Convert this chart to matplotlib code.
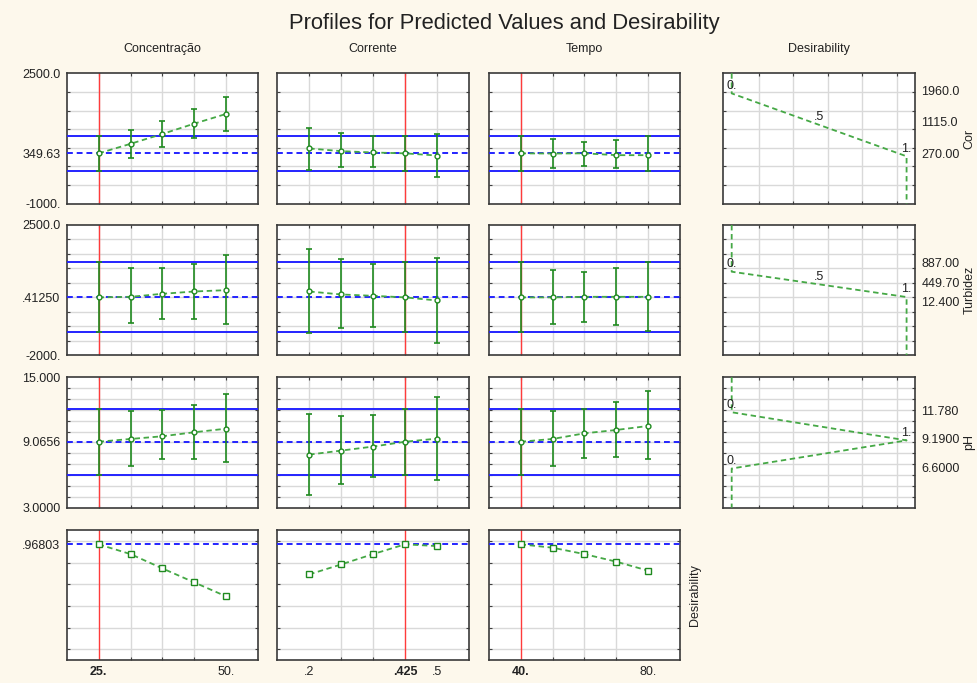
import numpy as np
import matplotlib
matplotlib.use('Agg')
import matplotlib.pyplot as plt

plt.rcParams['font.family'] = ['Liberation Sans', 'DejaVu Sans']

# factor levels (x of the profile columns)
conc = [25, 31.25, 37.5, 43.75, 50]
corr = [0.2, 0.275, 0.35, 0.425, 0.5]
tempo = [40, 50, 60, 70, 80]
factor_names = ['Concentração', 'Corrente', 'Tempo']
current = [25, 0.425, 40]

# Cor: predicted value, lower and upper confidence limit
cor_conc = [349.63, 606, 871, 1149, 1410]
cor_conc_lo = [-117, 238, 526, 768, 947]
cor_conc_hi = [817, 974, 1217, 1531, 1872]
cor_corr = [481, 409, 373, 349.63, 292]
cor_corr_lo = [-103, -22, -22, -117, -273]
cor_corr_hi = [1037, 903, 822, 817, 867]
cor_tempo = [349.63, 345, 350, 301, 301]
cor_tempo_lo = [-117, -31, 5, -31, -130]
cor_tempo_hi = [817, 732, 660, 696, 804]
cor_mean = 349.63
cor_ci = [-117, 817]

# Turbidez
tur_conc = [0.4125, 20, 124, 204, 250]
tur_conc_lo = [-1205, -886, -760, -760, -932]
tur_conc_hi = [1205, 1019, 1019, 1168, 1455]
tur_corr = [204, 101, 55, 0.4125, -106]
tur_corr_lo = [-1242, -1070, -1024, -1205, -1564]
tur_corr_hi = [1673, 1329, 1168, 1205, 1375]
tur_tempo = [0.4125, 0, 20, 20, 20]
tur_tempo_lo = [-1205, -932, -852, -944, -1162]
tur_tempo_hi = [1205, 962, 881, 1008, 1226]
tur_mean = 0.4125
tur_ci = [-1205, 1205]

# pH
ph_conc = [9.0656, 9.32, 9.57, 9.94, 10.27]
ph_conc_lo = [6.0, 6.87, 7.48, 7.48, 7.24]
ph_conc_hi = [12.12, 11.87, 12.02, 12.48, 13.43]
ph_corr = [7.88, 8.25, 8.62, 9.0656, 9.35]
ph_corr_lo = [4.14, 5.21, 5.85, 6.0, 5.58]
ph_corr_hi = [11.65, 11.41, 11.53, 12.12, 13.19]
ph_tempo = [9.0656, 9.32, 9.84, 10.15, 10.52]
ph_tempo_lo = [6.0, 6.87, 7.6, 7.7, 7.48]
ph_tempo_hi = [12.12, 11.87, 12.12, 12.7, 13.77]
ph_mean = 9.0656
ph_ci = [6.0, 12.12]

# overall desirability
desir_conc = [0.96803, 0.878, 0.746, 0.617, 0.488]
desir_corr = [0.691, 0.783, 0.878, 0.96803, 0.952]
desir_tempo = [0.96803, 0.937, 0.878, 0.808, 0.725]
desir_max = 0.96803

# desirability functions: response value -> desirability
cor_spec = [1960.0, 1115.0, 270.0]
cor_spec_d = [0, 0.5, 1]
cor_spec_labels = ['1960.0', '1115.0', '270.00']
tur_spec = [887.0, 449.7, 12.4]
tur_spec_d = [0, 0.5, 1]
tur_spec_labels = ['887.00', '449.70', '12.400']
ph_spec = [11.78, 9.19, 6.6]
ph_spec_d = [0, 1, 0]
ph_spec_labels = ['11.780', '9.1900', '6.6000']

response_names = ['Cor', 'Turbidez', 'pH']

# axis ranges and labels
row_ylim = [(-1000, 2500), (-2000, 2500), (3, 15), (-0.1, 1.1)]
row_ygrid = [np.arange(-500, 2001, 500), np.arange(-1500, 2001, 500),
             np.arange(4, 15, 1), np.arange(0, 1.01, 0.2)]
row_yticks = [[-1000, 349.63, 2500], [-2000, 0.4125, 2500], [3, 9.0656, 15], [0.96803]]
row_ylabels = [['-1000.', '349.63', '2500.0'], ['-2000.', '.41250', '2500.0'],
               ['3.0000', '9.0656', '15.000'], ['.96803']]
col_xlim = [(18.75, 56.25), (0.125, 0.575), (30, 90)]
col_xticks = [[25, 50], [0.2, 0.425, 0.5], [40, 80]]
col_xlabels = [['25.', '50.'], ['.2', '.425', '.5'], ['40.', '80.']]

BG = '#fdf8ec'
TXT = '#222222'
GREEN = '#1f8a1f'
GREEN_LINE = '#45a845'
BLUE = '#2424ff'
RED = '#ff3b3b'

W, H = 977, 683
fig = plt.figure(figsize=(W / 100, H / 100), dpi=100, facecolor=BG)

col_left = [66.7, 277.3, 488.7, 723.3]
row_top = [73.3, 225.0, 377.3, 530.0]
pan_w, pan_h = 191.5, 130.3


def make_panel(col, row):
    ax = fig.add_axes([col_left[col] / W, 1 - (row_top[row] + pan_h) / H, pan_w / W, pan_h / H])
    ax.set_facecolor('white')
    for s in ax.spines.values():
        s.set_color('#3a3a3a')
        s.set_linewidth(1.2)
    return ax


def style_grid(ax, xgrid, ygrid):
    ax.set_xticks(xgrid, minor=True)
    ax.set_yticks(ygrid, minor=True)
    ax.grid(True, which='minor', color='#d9d9d9', lw=1.0)
    ax.tick_params(which='minor', direction='in', length=2.5, width=0.8,
                   color='#404040', top=True, right=True)
    ax.tick_params(which='major', length=0, labelsize=9, labelcolor=TXT)
    ax.set_axisbelow(True)


def draw_profile(ax, x, pred, lo, hi, cur, mean, ci):
    ax.axvline(cur, color=RED, lw=1.0, zorder=2)
    ax.axhline(ci[0], color=BLUE, lw=1.4, zorder=3)
    ax.axhline(ci[1], color=BLUE, lw=1.4, zorder=3)
    ax.axhline(mean, color=BLUE, lw=1.4, ls=(0, (3, 2)), zorder=3)
    ax.plot(x, pred, color=GREEN_LINE, lw=1.3, ls=(0, (3, 2)), zorder=4)
    p = np.array(pred)
    yerr = [p - np.array(lo), np.array(hi) - p]
    ax.errorbar(x, p, yerr=yerr, fmt='none', ecolor=GREEN, elinewidth=1.2,
                capsize=2.5, capthick=1.2, zorder=5)
    ax.plot(x, p, 'o', ms=3.5, mfc='white', mec=GREEN, mew=1.0, zorder=6)


def draw_desir_profile(ax, x, d, cur):
    ax.axvline(cur, color=RED, lw=1.0, zorder=2)
    ax.axhline(desir_max, color=BLUE, lw=1.4, ls=(0, (3, 2)), zorder=3)
    ax.plot(x, d, color=GREEN_LINE, lw=1.3, ls=(0, (3, 2)), zorder=4)
    ax.plot(x, d, 's', ms=3.8, mfc='white', mec=GREEN, mew=1.0, zorder=6)


def draw_desir_function(ax, spec, spec_d, labels, ylim, offsets, name):
    # vertical pieces run out to the edges of the panel
    xs = [spec_d[0]] + spec_d + [spec_d[-1]]
    ys = [ylim[1]] + spec + [ylim[0]]
    ax.plot(xs, ys, color=GREEN_LINE, lw=1.3, ls=(0, (3, 2)), zorder=4)
    d_text = {0: '0.', 0.5: '.5', 1: '1.'}
    for dv, v in zip(spec_d, spec):
        ax.annotate(d_text[dv], xy=(dv, v), xytext=(0, 5.5), textcoords='offset points',
                    ha='center', va='center', fontsize=9, color=TXT, zorder=7)
    for v, lab, off in zip(spec, labels, offsets):
        ax.annotate(lab, xy=(1.035, v), xycoords=ax.get_yaxis_transform(),
                    xytext=(0, off), textcoords='offset points',
                    ha='left', va='center', fontsize=9, color=TXT, annotation_clip=False)
    ax.text(1.285, 0.5, name, rotation=90, transform=ax.transAxes,
            ha='center', va='center', fontsize=9, color=TXT)


profiles = [
    [(cor_conc, cor_conc_lo, cor_conc_hi), (cor_corr, cor_corr_lo, cor_corr_hi),
     (cor_tempo, cor_tempo_lo, cor_tempo_hi)],
    [(tur_conc, tur_conc_lo, tur_conc_hi), (tur_corr, tur_corr_lo, tur_corr_hi),
     (tur_tempo, tur_tempo_lo, tur_tempo_hi)],
    [(ph_conc, ph_conc_lo, ph_conc_hi), (ph_corr, ph_corr_lo, ph_corr_hi),
     (ph_tempo, ph_tempo_lo, ph_tempo_hi)],
]
means = [cor_mean, tur_mean, ph_mean]
cis = [cor_ci, tur_ci, ph_ci]
levels = [conc, corr, tempo]
desirs = [desir_conc, desir_corr, desir_tempo]

for row in range(4):
    for col in range(3):
        ax = make_panel(col, row)
        ax.set_xlim(col_xlim[col])
        ax.set_ylim(row_ylim[row])
        style_grid(ax, levels[col], row_ygrid[row])
        if row < 3:
            pred, lo, hi = profiles[row][col]
            draw_profile(ax, levels[col], pred, lo, hi, current[col], means[row], cis[row])
        else:
            draw_desir_profile(ax, levels[col], desirs[col], current[col])
        if col == 0:
            ax.set_yticks(row_yticks[row])
            ax.set_yticklabels(row_ylabels[row])
            ax.tick_params(axis='y', which='major', pad=4.5)
        else:
            ax.set_yticks([])
        if row == 3:
            ax.set_xticks(col_xticks[col])
            ax.set_xticklabels(col_xlabels[col])
            ax.tick_params(axis='x', which='major', pad=4)
            for t, v in zip(ax.get_xticklabels(), col_xticks[col]):
                if v == current[col]:
                    t.set_fontweight('bold')
        else:
            ax.set_xticks([])
        if row == 3 and col == 2:
            ax.text(1.078, 0.5, 'Desirability', rotation=90, transform=ax.transAxes,
                    ha='center', va='center', fontsize=9, color=TXT)

# desirability function column
specs = [(cor_spec, cor_spec_d, cor_spec_labels, [1, 1, 1]),
         (tur_spec, tur_spec_d, tur_spec_labels, [5.5, 0, -4.5]),
         (ph_spec, ph_spec_d, ph_spec_labels, [0, 0, 0])]
for row in range(3):
    ax = make_panel(3, row)
    ax.set_xlim(-0.048, 1.047)
    ax.set_ylim(row_ylim[row])
    style_grid(ax, np.linspace(0.155, 0.944, 5), row_ygrid[row])
    ax.set_xticks([])
    ax.set_yticks([])
    spec, spec_d, labels, offs = specs[row]
    draw_desir_function(ax, spec, spec_d, labels, row_ylim[row], offs, response_names[row])

# titles
col_centers = [c + pan_w / 2 for c in col_left]
for name, xc in zip(factor_names + ['Desirability'], col_centers):
    fig.text(xc / W, 1 - 49 / H, name, ha='center', va='center', fontsize=9, color=TXT)
fig.text(504 / W, 1 - 24 / H, 'Profiles for Predicted Values and Desirability',
         ha='center', va='center', fontsize=15.8, color=TXT)

fig.savefig('out.png', dpi=100, facecolor=BG)
